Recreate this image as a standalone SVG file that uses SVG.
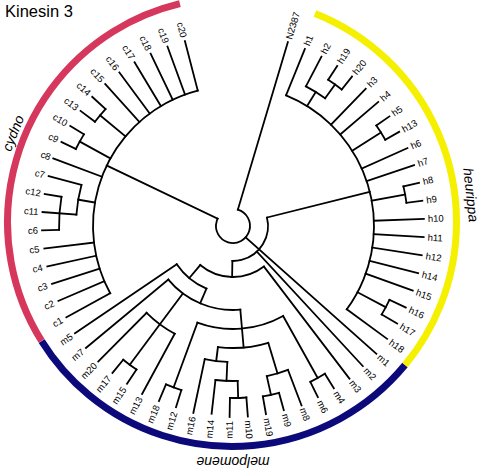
<svg xmlns="http://www.w3.org/2000/svg" width="484" height="471" viewBox="0 0 484 471">
<style>
.b line, .b circle { fill: none; stroke: #000; stroke-width: 1.8; stroke-linecap: square; }
.lab text { font-family: "Liberation Sans", Arial, sans-serif; font-size: 9.5px; fill: #000; }
.r { text-anchor: start; }
.l { text-anchor: end; }
.clade { fill: none; stroke-width: 7; }
.cl { font-family: "Liberation Sans", Arial, sans-serif; font-size: 14px; font-style: italic; fill: #000; text-anchor: middle; }
</style>
<rect width="484" height="471" fill="#fff"/>
<text x="5" y="17" font-family="Liberation Sans, Arial, sans-serif" font-size="16.5" fill="#000">Kinesin 3</text>

<g id="clade-arcs" transform="translate(232,222)">
  <g id="cydno"><circle class="clade" r="224.5" stroke="#d6375c" pathLength="360" stroke-dasharray="108.6 720" transform="rotate(148)"/></g>
  <g id="melpomene"><circle class="clade" r="224.5" stroke="#0c0a7a" pathLength="360" stroke-dasharray="108.4 720" transform="rotate(39.6)"/></g>
  <g id="heurippa"><circle class="clade" r="224.5" stroke="#f5f000" pathLength="360" stroke-dasharray="107.9 720" transform="rotate(-68.3)"/></g>
</g>
<text class="cl" transform="translate(13,133) rotate(-68.4)" dy="0.35em">cydno</text>
<text class="cl" transform="translate(471,195) rotate(84)" dy="0.35em">heurippa</text>
<text class="cl" transform="translate(233,457) rotate(180)">melpomene</text>

<g transform="translate(233,226)">
<g id="connectors" class="b">
  <!-- root -->
  <circle r="17" pathLength="360" stroke-dasharray="279 720" transform="rotate(-73.4)"/>
  <line x1="17" x2="192" transform="rotate(-73.4)"/>
  <line x1="17" x2="140" transform="rotate(205.6)"/>
  <line x1="17" x2="192" transform="rotate(41.7)"/>
  <circle r="35" pathLength="360" stroke-dasharray="105 720" transform="rotate(-14)"/>
  <line x1="35" x2="141" transform="rotate(-14)"/>
  <line x1="35" x2="191" transform="rotate(47.18)"/>
  <line x1="35" x2="51" transform="rotate(91)"/>
  <!-- melpomene -->
  <circle r="51" pathLength="360" stroke-dasharray="77.34 720" transform="rotate(52.66)"/>
  <line x1="51" x2="192" transform="rotate(52.66)"/>
  <line x1="51" x2="68" transform="rotate(130)"/>
  <circle r="68" pathLength="360" stroke-dasharray="32.82 720" transform="rotate(113)"/>
  <line x1="68" x2="191" transform="rotate(145.82)"/>
  <line x1="68" x2="84" transform="rotate(113)"/>
  <circle r="84" pathLength="360" stroke-dasharray="55.34 720" transform="rotate(85)"/>
  <line x1="84" x2="191" transform="rotate(140.34)"/>
  <line x1="84" x2="122.5" transform="rotate(126.64)"/>
  <circle r="122.5" pathLength="360" stroke-dasharray="16.44 720" transform="rotate(118.42)"/>
  <line x1="122.5" x2="191" transform="rotate(118.42)"/>
  <line x1="122.5" x2="191" transform="rotate(134.86)"/>
  <line x1="122.5" x2="173" transform="rotate(126.64)"/>
  <circle r="173" pathLength="360" stroke-dasharray="5.48 720" transform="rotate(123.9)"/>
  <line x1="173" x2="190" transform="rotate(123.9)"/>
  <line x1="173" x2="190" transform="rotate(129.38)"/>
  <line x1="84" x2="103" transform="rotate(85)"/>
  <circle r="103" pathLength="360" stroke-dasharray="49.32 720" transform="rotate(60.88)"/>
  <line x1="103" x2="174" transform="rotate(60.88)"/>
  <circle r="174" pathLength="360" stroke-dasharray="5.48 720" transform="rotate(58.14)"/>
  <line x1="174" x2="191" transform="rotate(58.14)"/>
  <line x1="174" x2="191" transform="rotate(63.62)"/>
  <line x1="103" x2="172" transform="rotate(110.2)"/>
  <circle r="172" pathLength="360" stroke-dasharray="5.48 720" transform="rotate(107.46)"/>
  <line x1="172" x2="190" transform="rotate(107.46)"/>
  <line x1="172" x2="190" transform="rotate(112.94)"/>
  <line x1="103" x2="122" transform="rotate(85)"/>
  <circle r="122" pathLength="360" stroke-dasharray="23.9 720" transform="rotate(73.2)"/>
  <line x1="122" x2="154" transform="rotate(73.2)"/>
  <circle r="154" pathLength="360" stroke-dasharray="8.22 720" transform="rotate(69.1)"/>
  <line x1="154" x2="192" transform="rotate(69.1)"/>
  <line x1="154" x2="173" transform="rotate(77.32)"/>
  <circle r="173" pathLength="360" stroke-dasharray="5.48 720" transform="rotate(74.58)"/>
  <line x1="173" x2="191" transform="rotate(74.58)"/>
  <line x1="173" x2="191" transform="rotate(80.06)"/>
  <line x1="122" x2="136" transform="rotate(97.1)"/>
  <circle r="136" pathLength="360" stroke-dasharray="9.58 720" transform="rotate(92.4)"/>
  <line x1="136" x2="191" transform="rotate(101.98)"/>
  <line x1="136" x2="155" transform="rotate(92.4)"/>
  <circle r="155" pathLength="360" stroke-dasharray="8.22 720" transform="rotate(88.28)"/>
  <line x1="155" x2="189" transform="rotate(96.5)"/>
  <line x1="155" x2="172" transform="rotate(88.28)"/>
  <circle r="172" pathLength="360" stroke-dasharray="5.48 720" transform="rotate(85.54)"/>
  <line x1="172" x2="191" transform="rotate(85.54)"/>
  <line x1="172" x2="191" transform="rotate(91.02)"/>
  <!-- cydno -->
  <circle r="140" pathLength="360" stroke-dasharray="104.12 720" transform="rotate(151.3)"/>
  <line x1="140" x2="190" transform="rotate(151.3)"/>
  <line x1="140" x2="190" transform="rotate(156.78)"/>
  <line x1="140" x2="190" transform="rotate(162.26)"/>
  <line x1="140" x2="190" transform="rotate(167.74)"/>
  <line x1="140" x2="190" transform="rotate(173.22)"/>
  <line x1="140" x2="157" transform="rotate(189.66)"/>
  <circle r="157" pathLength="360" stroke-dasharray="10.96 720" transform="rotate(184.18)"/>
  <line x1="157" x2="191" transform="rotate(195.14)"/>
  <line x1="157" x2="191" transform="rotate(184.18)"/>
  <circle r="174" pathLength="360" stroke-dasharray="10.96 720" transform="rotate(178.7)"/>
  <line x1="174" x2="191" transform="rotate(178.7)"/>
  <line x1="174" x2="191" transform="rotate(189.66)"/>
  <line x1="140" x2="192" transform="rotate(200.62)"/>
  <line x1="140" x2="175" transform="rotate(208.84)"/>
  <circle r="175" pathLength="360" stroke-dasharray="5.48 720" transform="rotate(206.1)"/>
  <line x1="175" x2="191" transform="rotate(206.1)"/>
  <line x1="175" x2="191" transform="rotate(211.58)"/>
  <line x1="140" x2="173" transform="rotate(219.8)"/>
  <circle r="173" pathLength="360" stroke-dasharray="5.48 720" transform="rotate(217.06)"/>
  <line x1="173" x2="191" transform="rotate(217.06)"/>
  <line x1="173" x2="191" transform="rotate(222.54)"/>
  <line x1="140" x2="191" transform="rotate(228.02)"/>
  <line x1="140" x2="191" transform="rotate(233.5)"/>
  <line x1="140" x2="191" transform="rotate(238.98)"/>
  <line x1="140" x2="191" transform="rotate(244.46)"/>
  <line x1="140" x2="191" transform="rotate(249.94)"/>
  <line x1="140" x2="191" transform="rotate(255.42)"/>
  <!-- heurippa -->
  <circle r="141" pathLength="360" stroke-dasharray="104.12 720" transform="rotate(-67.9)"/>
  <line x1="141" x2="191" transform="rotate(-67.9)"/>
  <line x1="141" x2="157.5" transform="rotate(-58.31)"/>
  <circle r="157.5" pathLength="360" stroke-dasharray="8.22 720" transform="rotate(-62.42)"/>
  <line x1="157.5" x2="191" transform="rotate(-62.42)"/>
  <line x1="157.5" x2="174.5" transform="rotate(-54.2)"/>
  <circle r="174.5" pathLength="360" stroke-dasharray="5.48 720" transform="rotate(-56.94)"/>
  <line x1="174.5" x2="191" transform="rotate(-56.94)"/>
  <line x1="174.5" x2="191" transform="rotate(-51.46)"/>
  <line x1="141" x2="191" transform="rotate(-45.98)"/>
  <line x1="141" x2="191" transform="rotate(-40.5)"/>
  <line x1="141" x2="175" transform="rotate(-32.28)"/>
  <circle r="175" pathLength="360" stroke-dasharray="5.48 720" transform="rotate(-35.02)"/>
  <line x1="175" x2="191" transform="rotate(-35.02)"/>
  <line x1="175" x2="191" transform="rotate(-29.54)"/>
  <line x1="141" x2="191" transform="rotate(-24.06)"/>
  <line x1="141" x2="191" transform="rotate(-18.58)"/>
  <line x1="141" x2="175" transform="rotate(-10.36)"/>
  <circle r="175" pathLength="360" stroke-dasharray="5.48 720" transform="rotate(-13.1)"/>
  <line x1="175" x2="191" transform="rotate(-13.1)"/>
  <line x1="175" x2="191" transform="rotate(-7.62)"/>
  <line x1="141" x2="191" transform="rotate(-2.14)"/>
  <line x1="141" x2="191" transform="rotate(3.34)"/>
  <line x1="141" x2="191" transform="rotate(8.82)"/>
  <line x1="141" x2="191" transform="rotate(14.3)"/>
  <line x1="141" x2="191" transform="rotate(19.78)"/>
  <line x1="141" x2="173" transform="rotate(28)"/>
  <circle r="173" pathLength="360" stroke-dasharray="5.48 720" transform="rotate(25.26)"/>
  <line x1="173" x2="191" transform="rotate(25.26)"/>
  <line x1="173" x2="191" transform="rotate(30.74)"/>
  <line x1="141" x2="191" transform="rotate(36.22)"/>
</g>

<g id="leaves" class="lab">
  <g id="leaf-N2387"><text class="r" x="195" dy="0.35em" transform="rotate(-73.4)">N2387</text></g>
  <g id="leaf-h1"><text class="r" x="195" dy="0.35em" transform="rotate(-67.9)">h1</text></g>
  <g id="leaf-h2"><text class="r" x="195" dy="0.35em" transform="rotate(-62.42)">h2</text></g>
  <g id="leaf-h19"><text class="r" x="195" dy="0.35em" transform="rotate(-56.94)">h19</text></g>
  <g id="leaf-h20"><text class="r" x="195" dy="0.35em" transform="rotate(-51.46)">h20</text></g>
  <g id="leaf-h3"><text class="r" x="195" dy="0.35em" transform="rotate(-45.98)">h3</text></g>
  <g id="leaf-h4"><text class="r" x="195" dy="0.35em" transform="rotate(-40.5)">h4</text></g>
  <g id="leaf-h5"><text class="r" x="195" dy="0.35em" transform="rotate(-35.02)">h5</text></g>
  <g id="leaf-h13"><text class="r" x="195" dy="0.35em" transform="rotate(-29.54)">h13</text></g>
  <g id="leaf-h6"><text class="r" x="195" dy="0.35em" transform="rotate(-24.06)">h6</text></g>
  <g id="leaf-h7"><text class="r" x="195" dy="0.35em" transform="rotate(-18.58)">h7</text></g>
  <g id="leaf-h8"><text class="r" x="195" dy="0.35em" transform="rotate(-13.1)">h8</text></g>
  <g id="leaf-h9"><text class="r" x="195" dy="0.35em" transform="rotate(-7.62)">h9</text></g>
  <g id="leaf-h10"><text class="r" x="195" dy="0.35em" transform="rotate(-2.14)">h10</text></g>
  <g id="leaf-h11"><text class="r" x="195" dy="0.35em" transform="rotate(3.34)">h11</text></g>
  <g id="leaf-h12"><text class="r" x="195" dy="0.35em" transform="rotate(8.82)">h12</text></g>
  <g id="leaf-h14"><text class="r" x="195" dy="0.35em" transform="rotate(14.3)">h14</text></g>
  <g id="leaf-h15"><text class="r" x="195" dy="0.35em" transform="rotate(19.78)">h15</text></g>
  <g id="leaf-h16"><text class="r" x="195" dy="0.35em" transform="rotate(25.26)">h16</text></g>
  <g id="leaf-h17"><text class="r" x="195" dy="0.35em" transform="rotate(30.74)">h17</text></g>
  <g id="leaf-h18"><text class="r" x="195" dy="0.35em" transform="rotate(36.22)">h18</text></g>
  <g id="leaf-m1"><text class="r" x="195" dy="0.35em" transform="rotate(41.7)">m1</text></g>
  <g id="leaf-m2"><text class="r" x="195" dy="0.35em" transform="rotate(47.18)">m2</text></g>
  <g id="leaf-m3"><text class="r" x="195" dy="0.35em" transform="rotate(52.66)">m3</text></g>
  <g id="leaf-m4"><text class="r" x="195" dy="0.35em" transform="rotate(58.14)">m4</text></g>
  <g id="leaf-m6"><text class="r" x="195" dy="0.35em" transform="rotate(63.62)">m6</text></g>
  <g id="leaf-m8"><text class="r" x="195" dy="0.35em" transform="rotate(69.1)">m8</text></g>
  <g id="leaf-m9"><text class="r" x="195" dy="0.35em" transform="rotate(74.58)">m9</text></g>
  <g id="leaf-m19"><text class="r" x="195" dy="0.35em" transform="rotate(80.06)">m19</text></g>
  <g id="leaf-m10"><text class="r" x="195" dy="0.35em" transform="rotate(85.54)">m10</text></g>
  <g id="leaf-m11"><text class="l" x="-195" dy="0.35em" transform="rotate(-88.98)">m11</text></g>
  <g id="leaf-m14"><text class="l" x="-195" dy="0.35em" transform="rotate(-83.5)">m14</text></g>
  <g id="leaf-m16"><text class="l" x="-195" dy="0.35em" transform="rotate(-78.02)">m16</text></g>
  <g id="leaf-m12"><text class="l" x="-195" dy="0.35em" transform="rotate(-72.54)">m12</text></g>
  <g id="leaf-m18"><text class="l" x="-195" dy="0.35em" transform="rotate(-67.06)">m18</text></g>
  <g id="leaf-m13"><text class="l" x="-195" dy="0.35em" transform="rotate(-61.58)">m13</text></g>
  <g id="leaf-m15"><text class="l" x="-195" dy="0.35em" transform="rotate(-56.1)">m15</text></g>
  <g id="leaf-m17"><text class="l" x="-195" dy="0.35em" transform="rotate(-50.62)">m17</text></g>
  <g id="leaf-m20"><text class="l" x="-195" dy="0.35em" transform="rotate(-45.14)">m20</text></g>
  <g id="leaf-m7"><text class="l" x="-195" dy="0.35em" transform="rotate(-39.66)">m7</text></g>
  <g id="leaf-m5"><text class="l" x="-195" dy="0.35em" transform="rotate(-34.18)">m5</text></g>
  <g id="leaf-c1"><text class="l" x="-195" dy="0.35em" transform="rotate(-28.7)">c1</text></g>
  <g id="leaf-c2"><text class="l" x="-195" dy="0.35em" transform="rotate(-23.22)">c2</text></g>
  <g id="leaf-c3"><text class="l" x="-195" dy="0.35em" transform="rotate(-17.74)">c3</text></g>
  <g id="leaf-c4"><text class="l" x="-195" dy="0.35em" transform="rotate(-12.26)">c4</text></g>
  <g id="leaf-c5"><text class="l" x="-195" dy="0.35em" transform="rotate(-6.78)">c5</text></g>
  <g id="leaf-c6"><text class="l" x="-195" dy="0.35em" transform="rotate(-1.3)">c6</text></g>
  <g id="leaf-c11"><text class="l" x="-195" dy="0.35em" transform="rotate(4.18)">c11</text></g>
  <g id="leaf-c12"><text class="l" x="-195" dy="0.35em" transform="rotate(9.66)">c12</text></g>
  <g id="leaf-c7"><text class="l" x="-195" dy="0.35em" transform="rotate(15.14)">c7</text></g>
  <g id="leaf-c8"><text class="l" x="-195" dy="0.35em" transform="rotate(20.62)">c8</text></g>
  <g id="leaf-c9"><text class="l" x="-195" dy="0.35em" transform="rotate(26.1)">c9</text></g>
  <g id="leaf-c10"><text class="l" x="-195" dy="0.35em" transform="rotate(31.58)">c10</text></g>
  <g id="leaf-c13"><text class="l" x="-195" dy="0.35em" transform="rotate(37.06)">c13</text></g>
  <g id="leaf-c14"><text class="l" x="-195" dy="0.35em" transform="rotate(42.54)">c14</text></g>
  <g id="leaf-c15"><text class="l" x="-195" dy="0.35em" transform="rotate(48.02)">c15</text></g>
  <g id="leaf-c16"><text class="l" x="-195" dy="0.35em" transform="rotate(53.5)">c16</text></g>
  <g id="leaf-c17"><text class="l" x="-195" dy="0.35em" transform="rotate(58.98)">c17</text></g>
  <g id="leaf-c18"><text class="l" x="-195" dy="0.35em" transform="rotate(64.46)">c18</text></g>
  <g id="leaf-c19"><text class="l" x="-195" dy="0.35em" transform="rotate(69.94)">c19</text></g>
  <g id="leaf-c20"><text class="l" x="-195" dy="0.35em" transform="rotate(75.42)">c20</text></g>
</g>
</g>
</svg>
